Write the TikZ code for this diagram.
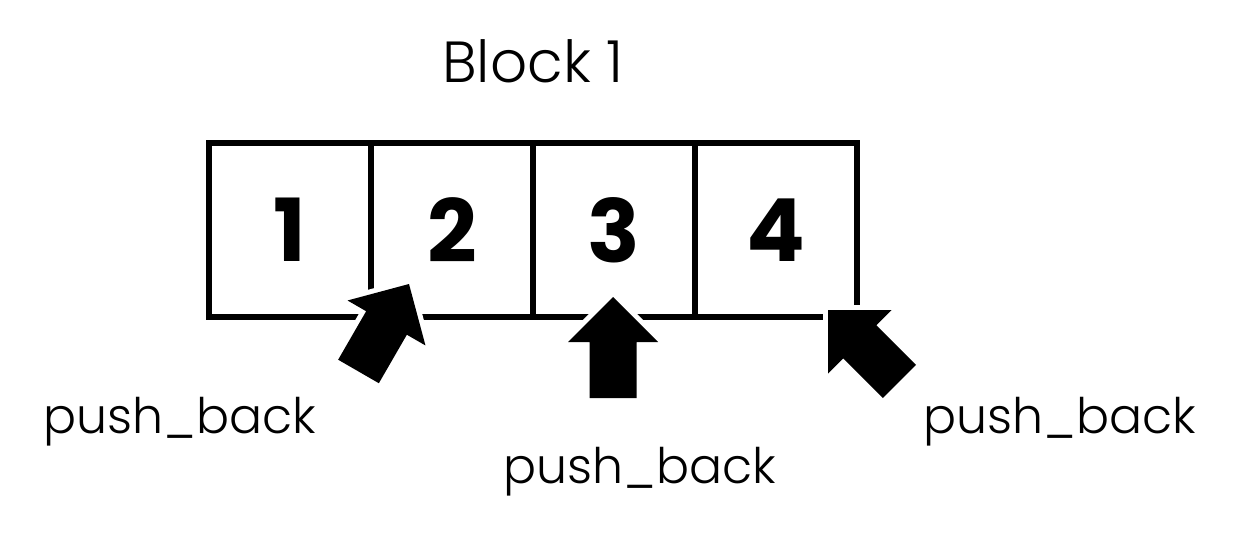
\documentclass[tikz,border=0pt]{standalone}
\usepackage{fontspec}
\setmainfont{Poppins}[UprightFont=* Light, BoldFont=* Bold]
\usetikzlibrary{positioning}

\newcommand{\pushArrow}[2]{%
  \fill[push arrow, shift={(#1)}, rotate=#2]
    (0,0) -- (45,-45) -- (23.5,-45) -- (23.5,-101)
    -- (-23.5,-101) -- (-23.5,-45) -- (-45,-45) -- cycle;}

\begin{document}
\begin{tikzpicture}[
             x=1pt, y=1pt,
             cell/.style={draw, line width=6pt, outer sep=0pt, inner sep=0pt,
                          minimum width=162pt, minimum height=174pt,
                          font=\fontsize{87}{90}\selectfont\bfseries},
             push arrow/.style={fill=black,
                          preaction={draw=white, line width=10pt, line join=round}},
             op label/.style={anchor=base, inner sep=0pt,
                          font=\fontsize{49}{53}\selectfont}
             ]
\useasboundingbox (0,0) rectangle (1239,542);
\node[cell] (c1) at (290,312) {1};
\node[cell, right=0pt of c1] (c2) {2};
\node[cell, right=0pt of c2] (c3) {3};
\node[cell, right=0pt of c3] (c4) {4};
\node[font=\fontsize{58}{62}\selectfont] (title) at (533,481) {Block 1};
% where the new elements go
\coordinate (t2) at (409,258);
\coordinate (t3) at (613,245);
\coordinate (t4) at (828,232);
\pushArrow{t2}{-30}
\pushArrow{t3}{0}
\pushArrow{t4}{45}
\node[op label] (l2) at (180,109) {push\_back};
\node[op label] (l3) at (640,59) {push\_back};
\node[op label] (l4) at (1060,109) {push\_back};
\end{tikzpicture}
\end{document}
